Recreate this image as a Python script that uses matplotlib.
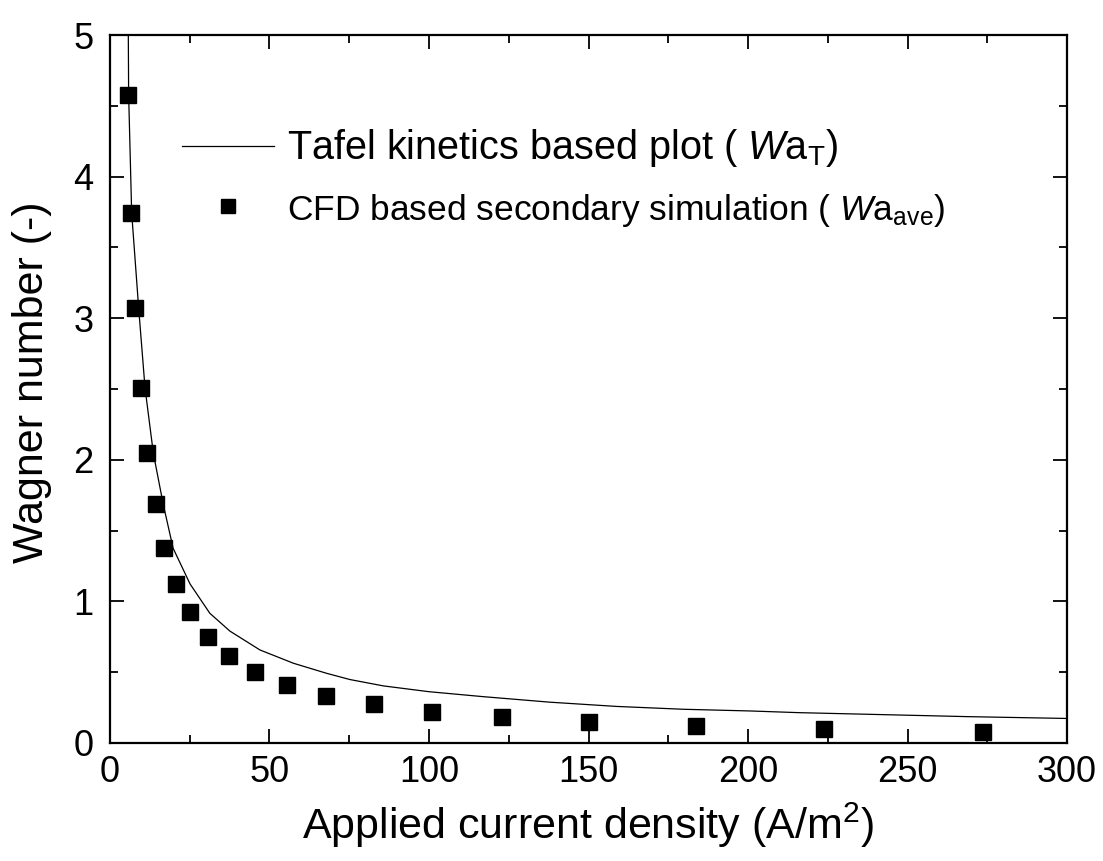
import matplotlib
matplotlib.use("Agg")
import matplotlib.pyplot as plt
from matplotlib.ticker import MultipleLocator

plt.rcParams["font.family"] = ["Liberation Sans", "DejaVu Sans"]
plt.rcParams["mathtext.fontset"] = "custom"
plt.rcParams["mathtext.rm"] = "Liberation Sans"
plt.rcParams["mathtext.it"] = "Liberation Sans:italic"

# ========== 数据 ==========
# Tafel kinetics curve
tafel_x = [5.6, 5.75, 5.85, 6.8, 9.0, 11.0, 13.6, 16.7, 19.8, 25.1, 31.3, 37.6,
           47.0, 57.5, 67.9, 75.2, 85.7, 100.0, 117.0, 137.9, 158.8, 179.7,
           200.6, 216.0, 242.4, 268.6, 300.0]
tafel_y = [5.2, 5.0, 4.58, 3.745, 3.07, 2.505, 2.046, 1.685, 1.375, 1.123, 0.916,
           0.79, 0.657, 0.563, 0.492, 0.448, 0.403, 0.362, 0.327, 0.288, 0.258,
           0.238, 0.226, 0.214, 0.200, 0.186, 0.173]

# CFD secondary simulation points
cfd_x = [5.55, 6.6, 7.9, 9.7, 11.6, 14.3, 17.0, 20.8, 25.1, 30.7, 37.3, 45.6,
         55.6, 67.8, 82.7, 100.9, 123.0, 150.2, 183.6, 223.7, 273.5]
cfd_y = [4.58, 3.745, 3.07, 2.505, 2.046, 1.685, 1.375, 1.123, 0.923, 0.751,
         0.614, 0.504, 0.410, 0.334, 0.273, 0.221, 0.181, 0.146, 0.122, 0.097,
         0.075]

fig = plt.figure(figsize=(11.03, 8.61), dpi=100)
ax = fig.add_axes([0.0997, 0.1371, 0.8677, 0.8222])

ax.plot(tafel_x, tafel_y, color="black", lw=0.9,
        label="Tafel kinetics based plot ( $\\it{W}$a$_\\mathrm{T}$)")
ax.plot(cfd_x, cfd_y, ls="none", marker="s", ms=12, color="black",
        label="CFD based secondary simulation ( $\\it{W}$a$_\\mathrm{ave}$)")

ax.set_xlim(0, 300)
ax.set_ylim(0, 5)
ax.xaxis.set_major_locator(MultipleLocator(50))
ax.xaxis.set_minor_locator(MultipleLocator(25))
ax.yaxis.set_major_locator(MultipleLocator(1))
ax.yaxis.set_minor_locator(MultipleLocator(0.5))
ax.tick_params(which="both", direction="in", top=True, right=True,
               width=1.3, labelsize=26)
ax.tick_params(which="major", length=10)
ax.tick_params(which="minor", length=5.5)
ax.tick_params(axis="x", which="major", pad=9)
ax.tick_params(axis="y", which="major", pad=12)
for s in ax.spines.values():
    s.set_linewidth(1.6)

ax.set_xlabel("Applied current density (A/m$^2$)", fontsize=31, labelpad=7)
ax.set_ylabel("Wagner number (-)", fontsize=31)
ax.yaxis.set_label_coords(-0.061, 0.51)

leg = ax.legend(loc="upper left", bbox_to_anchor=(0.075, 0.87), frameon=False,
                fontsize=27, handlelength=2.45, handletextpad=0.35,
                markerscale=0.85, borderpad=0, borderaxespad=0,
                labelspacing=0.6)
leg.get_texts()[0].set_fontsize(28.5)
leg.get_texts()[1].set_fontsize(25.5)

fig.savefig("out.png", dpi=100)
